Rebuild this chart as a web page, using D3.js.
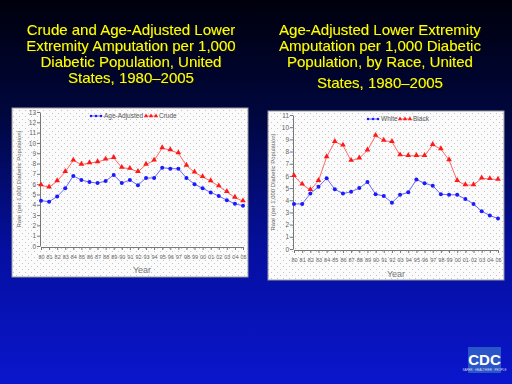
<!DOCTYPE html>
<html>
<head>
<meta charset="utf-8">
<script src="https://cdn.jsdelivr.net/npm/d3@7"></script>
<style>
  html, body { margin: 0; padding: 0; background: #000; }
  svg { display: block; }
</style>
</head>
<body>
<div id="slide"></div>
<script>
// Data
const yearLabels = ["80","81","82","83","84","85","86","87","88","89","90","91","92","93","94","95","96","97","98","99","00","01","02","03","04","05"];

const ageAdjusted = [4.4,4.3,4.8,5.6,6.8,6.4,6.2,6.1,6.3,6.9,6.1,6.4,5.9,6.6,6.6,7.6,7.5,7.5,6.6,6.0,5.6,5.2,4.85,4.45,4.1,3.9];
const crude = [5.9,5.7,6.3,7.2,8.3,7.9,8.05,8.15,8.4,8.55,7.6,7.5,7.2,7.9,8.3,9.5,9.3,9.0,7.8,7.15,6.7,6.3,5.8,5.25,4.7,4.35];

const white = [3.7,3.7,4.55,5.1,5.8,4.9,4.55,4.7,5.0,5.5,4.5,4.35,3.8,4.45,4.65,5.7,5.4,5.2,4.5,4.45,4.45,4.1,3.7,3.1,2.75,2.5];
const black = [6.0,5.3,4.85,5.6,7.55,8.8,8.5,7.25,7.45,8.1,9.3,8.9,8.8,7.7,7.65,7.65,7.65,8.55,8.2,7.3,5.6,5.25,5.25,5.8,5.75,5.7];

const leftTitle = ["Crude and Age-Adjusted Lower", "Extremity Amputation per 1,000", "Diabetic Population, United", "States, 1980\u20132005"];
const rightTitle = ["Age-Adjusted Lower Extremity", "Amputation per 1,000 Diabetic", "Population, by Race, United", "States, 1980\u20132005"];

const W = 512, H = 384;
const svg = d3.select("#slide").append("svg").attr("width", W).attr("height", H);
const defs = svg.append("defs");

const bg = defs.append("linearGradient").attr("id", "bg").attr("x1", 0).attr("y1", 0).attr("x2", 0).attr("y2", 1);
bg.append("stop").attr("offset", "0%").attr("stop-color", "#00000c");
bg.append("stop").attr("offset", "30%").attr("stop-color", "#00073e");
bg.append("stop").attr("offset", "65%").attr("stop-color", "#050fa0");
bg.append("stop").attr("offset", "100%").attr("stop-color", "#0a16cc");

const shadow = defs.append("filter").attr("id", "shadow")
  .attr("x", "-5%").attr("y", "-20%").attr("width", "115%").attr("height", "150%");
shadow.append("feDropShadow").attr("dx", 1.5).attr("dy", 1.5).attr("stdDeviation", 0.3)
  .attr("flood-color", "#111").attr("flood-opacity", 1);

const dots = defs.append("pattern").attr("id", "dots").attr("width", 6).attr("height", 6)
  .attr("patternUnits", "userSpaceOnUse");
dots.append("rect").attr("width", 6).attr("height", 6).attr("fill", "#fbfbfb");
dots.append("rect").attr("x", 1).attr("y", 2).attr("width", 1).attr("height", 1).attr("fill", "#c4c4c4");
dots.append("rect").attr("x", 4).attr("y", 5).attr("width", 1).attr("height", 1).attr("fill", "#c4c4c4");

svg.append("rect").attr("width", W).attr("height", H).attr("fill", "url(#bg)");

// titles
function drawTitle(lines, cx, baselines) {
  const g = svg.append("g")
    .style("font-family", "'Liberation Sans', Arial, sans-serif")
    .style("font-size", "15px")
    .attr("text-anchor", "middle")
    .attr("filter", "url(#shadow)");
  lines.forEach((t, i) => {
    g.append("text").attr("x", cx).attr("y", baselines[i]).attr("fill", "#ffff00").text(t);
  });
}
drawTitle(leftTitle, 131, [35, 51, 67, 83]);
drawTitle(rightTitle, 380, [35, 51, 67, 88]);

function panel(opts) {
  const g = svg.append("g");
  g.append("rect")
    .attr("x", opts.box[0]).attr("y", opts.box[1])
    .attr("width", opts.box[2]).attr("height", opts.box[3])
    .attr("fill", "url(#dots)").attr("stroke", "#9a9a9a").attr("stroke-width", 1);

  const x = d3.scalePoint().domain(yearLabels).range([opts.x0, opts.x1]);
  const y = d3.scaleLinear().domain([0, opts.yMax]).range([opts.y0, opts.y1]);

  const axisStyle = size => sel => {
    sel.selectAll("path, line").attr("stroke", "#777");
    sel.selectAll("text").attr("fill", "#666")
      .style("font-family", "'Liberation Sans', Arial, sans-serif").style("font-size", size);
  };

  g.append("g").attr("transform", `translate(${opts.x0 - 1},0)`)
    .call(d3.axisLeft(y).ticks(opts.yMax).tickSize(3).tickPadding(1).tickSizeOuter(0))
    .call(axisStyle("6.5px"));

  g.append("g").attr("transform", `translate(0,${opts.y0 + 1})`)
    .call(d3.axisBottom(x).tickSize(3).tickPadding(5).tickSizeOuter(0))
    .call(axisStyle("5.5px"));

  g.append("text")
    .attr("transform", `translate(${opts.ylabX},${(opts.y0 + opts.y1) / 2}) rotate(-90)`)
    .attr("text-anchor", "middle").attr("fill", "#666")
    .style("font-family", "'Liberation Sans', Arial, sans-serif").style("font-size", "6px")
    .text("Rate (per 1,000 Diabetic Population)");

  g.append("text")
    .attr("x", (opts.x0 + opts.x1) / 2).attr("y", opts.yearY)
    .attr("text-anchor", "middle").attr("fill", "#777")
    .style("font-family", "'Liberation Sans', Arial, sans-serif").style("font-size", "9px")
    .text("Year");

  const line = d3.line().x((d, i) => x(yearLabels[i])).y(d => y(d));
  const tri = d3.symbol().type(d3.symbolTriangle).size(14);

  opts.series.forEach(s => {
    g.append("path").datum(s.values).attr("fill", "none")
      .attr("stroke", s.line).attr("stroke-width", 1).attr("d", line);
    if (s.shape === "circle") {
      g.selectAll(null).data(s.values).join("circle")
        .attr("cx", (d, i) => x(yearLabels[i])).attr("cy", d => y(d))
        .attr("r", 2).attr("fill", s.mark);
    } else {
      g.selectAll(null).data(s.values).join("path")
        .attr("transform", (d, i) => `translate(${x(yearLabels[i])},${y(d) - 0.5})`)
        .attr("d", tri).attr("fill", s.mark);
    }
  });

  // legend
  const lg = g.append("g").style("font-family", "'Liberation Sans', Arial, sans-serif").style("font-size", "6.5px");
  opts.series.forEach((s, k) => {
    const lx = opts.legend[k], ly = opts.legendY;
    lg.append("line").attr("x1", lx).attr("x2", lx + 12).attr("y1", ly).attr("y2", ly)
      .attr("stroke", s.line).attr("stroke-width", 1);
    [lx + 1, lx + 6, lx + 11].forEach(px => {
      if (s.shape === "circle") {
        lg.append("circle").attr("cx", px).attr("cy", ly).attr("r", 1.3).attr("fill", s.mark);
      } else {
        lg.append("path").attr("transform", `translate(${px},${ly})`)
          .attr("d", d3.symbol().type(d3.symbolTriangle).size(8)).attr("fill", s.mark);
      }
    });
    lg.append("text").attr("x", lx + 14).attr("y", ly + 2.3).attr("fill", "#555").text(s.name);
  });
}

panel({
  box: [12, 108, 236, 169],
  x0: 41, x1: 243, y0: 246, y1: 112, yMax: 13,
  ylabX: 21, yearY: 273,
  legend: [90, 145], legendY: 116,
  series: [
    { name: "Age-Adjusted", values: ageAdjusted, line: "#6a6aff", mark: "#1a1aff", shape: "circle" },
    { name: "Crude", values: crude, line: "#ff6a6a", mark: "#ff1a1a", shape: "triangle" }
  ]
});

panel({
  box: [268, 111, 236, 169],
  x0: 294, x1: 498, y0: 249, y1: 115, yMax: 11,
  ylabX: 275, yearY: 277,
  legend: [367, 399], legendY: 119,
  series: [
    { name: "White", values: white, line: "#6a6aff", mark: "#1a1aff", shape: "circle" },
    { name: "Black", values: black, line: "#ff6a6a", mark: "#ff1a1a", shape: "triangle" }
  ]
});

// CDC logo
const logo = svg.append("g");
logo.append("rect").attr("x", 468).attr("y", 347).attr("width", 33).attr("height", 26).attr("fill", "#2a55c8");
logo.append("text").attr("x", 484.5).attr("y", 365).attr("text-anchor", "middle").attr("fill", "#fff")
  .style("font-family", "'Liberation Sans', Arial, sans-serif").style("font-size", "15px").style("font-weight", "bold")
  .text("CDC");
logo.append("text").attr("x", 484.5).attr("y", 371).attr("text-anchor", "middle").attr("fill", "#dde")
  .style("font-family", "'Liberation Sans', Arial, sans-serif").style("font-size", "3px")
  .text("SAFER \u00b7 HEALTHIER \u00b7 PEOPLE");
</script>
</body>
</html>
